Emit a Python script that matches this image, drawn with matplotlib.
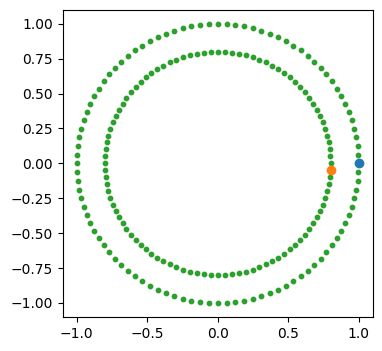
import numpy as np
import matplotlib
matplotlib.use("Agg")
import matplotlib.pyplot as plt

# two concentric rings of evenly spaced points
n_points = 100
radii = [1.0, 0.8]
# highlighted points
blue_pt = [1.0, 0.0]
orange_pt = [0.8, -0.05]

angles = np.linspace(0, 2 * np.pi, n_points, endpoint=False)
xs = np.concatenate([r * np.cos(angles) for r in radii])
ys = np.concatenate([r * np.sin(angles) for r in radii])

fig = plt.figure(figsize=(3.82, 3.51), dpi=100)
ax = fig.add_axes([0.164, 0.097, 0.812, 0.875])
ax.scatter(xs, ys, s=10, color="C2")
ax.scatter([blue_pt[0]], [blue_pt[1]], color="C0")
ax.scatter([orange_pt[0]], [orange_pt[1]], color="C1")
fig.savefig("out.png", dpi=100)
